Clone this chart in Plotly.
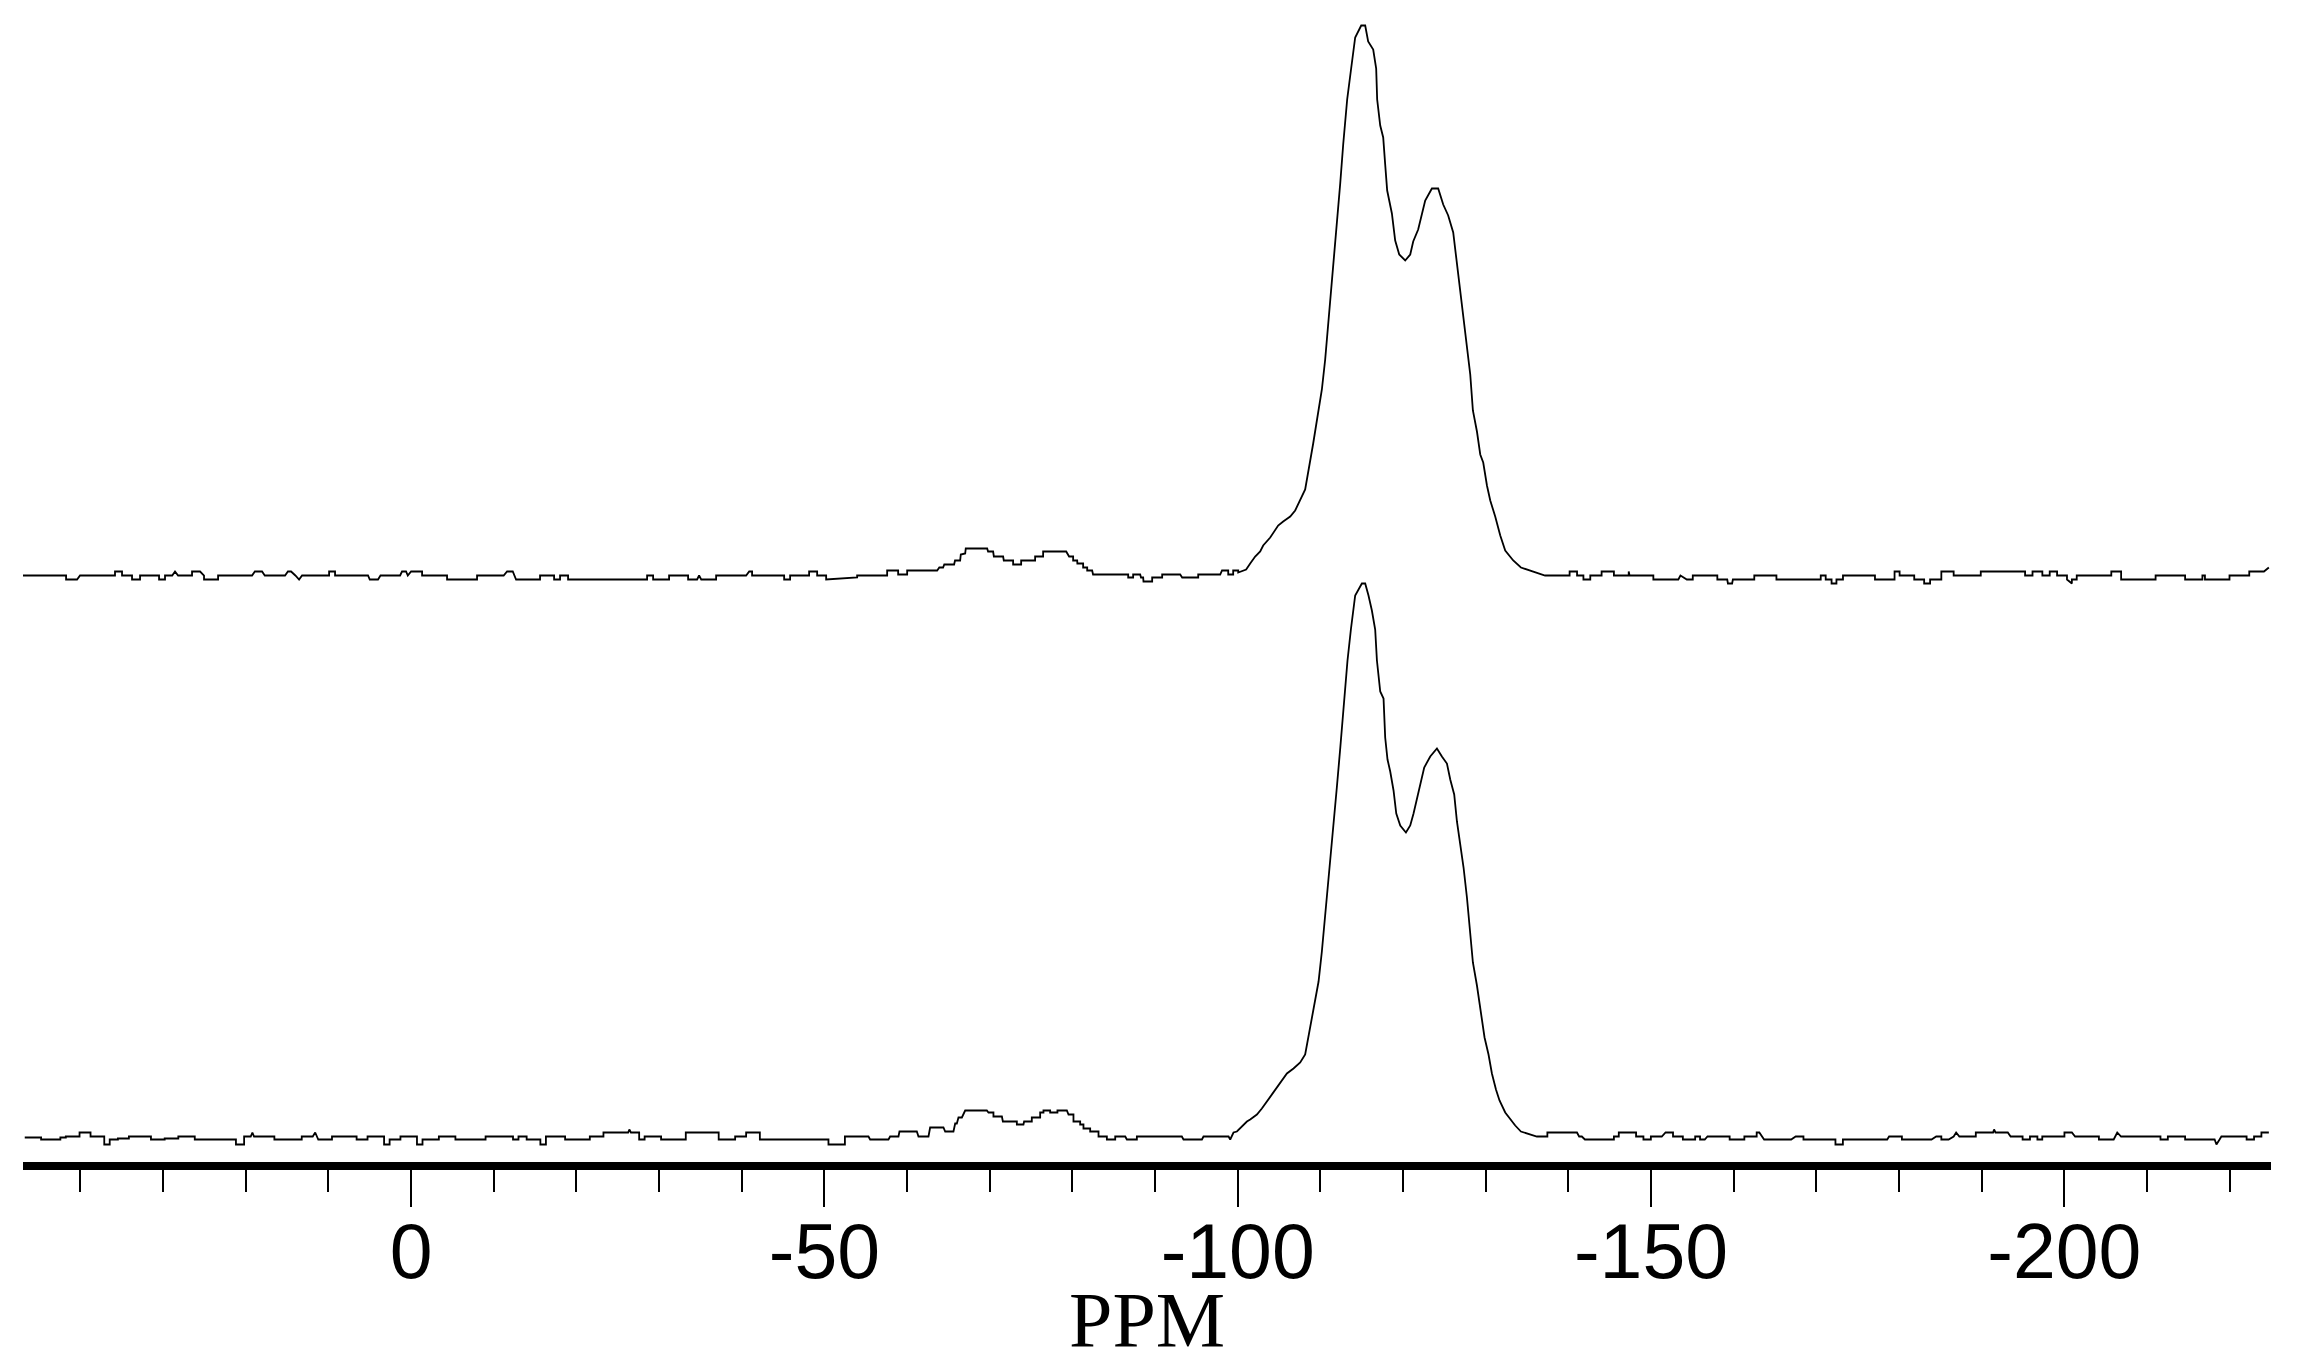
import plotly.graph_objects as go

# ---- data (chemical shift in ppm, intensity in arbitrary units above each trace's own baseline) ----
ppm_top = [46.95, 41.74, 41.74, 40.41, 40.05, 35.82, 35.82, 34.97, 34.97, 33.76, 33.76, 32.79, 32.79, 30.49, 30.49, 29.77,
           29.77, 28.9, 28.56, 28.19, 26.5, 26.5, 25.53, 25.05, 25.05, 23.35, 23.35, 19.24, 18.9, 18.03, 17.7, 15.25,
           14.9, 14.52, 14.0, 13.55, 13.19, 9.92, 9.92, 9.2, 9.2, 5.21, 5.0, 4.0, 3.7, 1.33, 1.1, 0.61, 0.4, 0.0,
           -1.33, -1.33, -4.35, -4.35, -7.98, -7.98, -11.2, -11.61, -12.3, -12.7, -15.6, -15.6, -17.3, -17.3, -18.02,
           -18.02, -18.99, -18.99, -28.55, -28.55, -29.28, -29.28, -31.21, -31.21, -33.51, -33.51, -34.6, -34.84,
           -35.1, -36.9, -36.9, -40.53, -40.9, -41.25, -41.25, -45.13, -45.13, -45.85, -45.85, -48.15, -48.15, -49.12,
           -49.12, -50.21, -50.21, -53.11, -53.96, -53.96,
           -57.59, -57.59, -58.92, -58.92, -60.01, -60.01, -63.64, -63.9, -64.36, -64.5, -65.69, -65.8, -66.42, -66.5,
           -67.03, -67.1, -69.69, -69.8, -70.41, -70.5, -71.62, -71.7, -72.83, -72.83, -73.8, -73.8, -75.49, -75.49,
           -76.46, -76.46, -79.25, -79.6, -80.09, -80.09, -80.58, -80.6, -81.3, -81.3, -81.79, -81.79, -82.39, -82.5,
           -86.75, -86.75, -87.35, -87.35, -88.2, -88.3, -88.56, -88.6, -89.65, -89.65, -90.86, -90.86, -93.04, -93.28,
           -95.22, -95.22, -97.88, -98.1, -98.85, -98.85, -99.45, -99.45, -100.06, -100.06, -101.02,
           -101.51, -102.11, -102.72, -103.08, -103.93, -104.53, -104.89, -105.5, -106.35, -106.95, -108.16, -109.13,
           -109.74, -110.18, -110.58, -111.07, -111.39, -112.0, -112.4, -112.76, -113.24, -113.69, -114.21, -114.94,
           -115.42, -115.78, -116.39, -116.75, -116.87, -117.24, -117.6, -117.84, -118.08, -118.65, -119.05, -119.54,
           -120.26, -120.87, -121.23, -121.83, -122.28, -122.68, -123.49, -124.25, -124.86, -125.46, -126.07, -126.52,
           -126.92, -127.28, -127.73, -128.13, -128.45, -128.94, -129.34, -129.7, -130.15, -130.55, -131.15, -131.76,
           -132.36, -133.33, -134.26, -135.59,
           -137.18, -140.15, -140.15, -141.05, -141.05, -141.82, -141.82, -142.65, -142.65, -144.02, -144.02, -145.51,
           -145.51, -147.3, -147.3, -147.4, -150.28, -150.28, -153.3, -153.56, -154.33, -155.05, -155.05, -158.02,
           -158.02, -159.22, -159.3, -159.81, -159.9, -162.49, -162.49, -165.17, -165.17, -170.53, -170.53, -171.13,
           -171.13, -171.84, -171.84, -172.43, -172.43, -173.22, -173.22, -177.09, -177.09, -179.46, -179.46, -180.07,
           -180.07, -181.84, -181.84, -183.04, -183.04, -183.76, -183.76, -185.12, -185.12, -186.61, -186.61, -189.89,
           -189.89, -195.25, -195.25, -196.15, -196.15, -197.34, -197.34, -198.23, -198.23, -199.12, -199.12, -200.32,
           -200.32, -200.91, -200.91, -201.5, -201.5, -205.68, -205.68, -206.87, -206.87, -211.04, -211.04, -214.61,
           -214.61, -216.7, -216.7, -217.01, -217.01, -219.98, -219.98, -222.37, -222.37, -224.15, -224.74]
int_top = [0, 0, -4, -4, 0, 0, 4, 4, 0, 0, -4, -4, 0, 0, -4, -4,
           0, 0, 4, 0, 0, 4, 4, 0, -4, -4, 0, 0, 4, 4, 0, 0,
           4, 4, 0, -4, 0, 0, 4, 4, 0, 0, -4, -4, 0, 0, 4, 4, 0, 4,
           4, 0, 0, -4, -4, 0, 0, 4, 4, -4, -4, 0, 0, -4, -4,
           0, 0, -4, -4, 0, 0, -4, -4, 0, 0, -4, -4, 0,
           -4, -4, 0, 0, 4, 4, 0, 0, -4, -4, 0, 0, 4, 4,
           0, 0, -4, -3, -2, 0,
           0, 5, 5, 1, 1, 5, 5, 8, 8, 11, 11, 15, 15, 21,
           22, 27, 27, 24, 24, 19, 19, 15, 15, 11, 11, 15, 15, 19,
           19, 24, 24, 19, 19, 15, 15, 12, 12, 8, 8, 5, 5, 1,
           1, -2, -2, 1, 1, -2, -2, -6, -6, -2, -2, 1, 1, -2,
           -2, 1, 1, 5, 5, 1, 1, 5, 5, 3, 6,
           12, 19, 24, 30, 38, 45, 50, 54, 59, 65, 86, 132,
           163, 186, 216, 262, 300, 350, 392, 431, 476, 505, 538, 550,
           550, 534, 526, 507, 476, 450, 438, 411, 385, 362, 335, 321,
           315, 321, 334, 346, 360, 375, 387, 387, 371, 360, 343, 312,
           285, 258, 232, 201, 165, 144, 121, 113, 90, 75, 59, 40,
           25, 15, 8, 4,
           0, 0, 4, 4, 0, 0, -4, -4, 0, 0, 4, 4,
           0, 0, 4, 0, 0, -4, -4, 0, -4, -4, 0, 0,
           -4, -4, -8, -8, -4, -4, 0, 0, -4, -4, 0, 0,
           -4, -4, -8, -8, -4, -4, 0, 0, -4, -4, 4, 4,
           0, 0, -4, -4, -8, -8, -4, -4, 4, 4, 0, 0,
           4, 4, 0, 0, 4, 4, 0, 0, 4, 4, 0, 0,
           -4, -8, -4, -4, 0, 0, 4, 4, -4, -4, 0, 0,
           -4, -4, 0, 0, -4, -4, 0, 0, 4, 4, 8]

ppm_bot = [46.74, 44.76, 44.76, 42.43, 42.43, 41.77, 41.77, 40.11, 40.11, 38.78, 38.78, 37.12, 37.12, 36.46, 36.46,
           35.47, 35.47, 34.14, 34.14, 31.47, 31.47, 29.81, 29.81, 28.16, 28.16, 26.17, 26.17, 21.19, 21.19, 20.2,
           20.2, 19.4, 19.2, 19.0, 18.86, 16.54, 16.54, 13.23, 13.23, 11.9, 11.6, 11.23, 11.23, 9.57, 9.57, 6.59,
           6.59, 5.27, 5.27, 3.27, 3.27, 2.6, 2.6, 1.29, 1.29, -0.71, -0.71, -1.38, -1.38, -3.36, -3.36, -5.36,
           -5.36, -9.01, -9.01, -12.33, -12.33, -12.99, -12.99, -13.98, -13.98, -15.64, -15.64, -16.31, -16.31,
           -18.63, -18.63, -21.62, -21.62, -23.27, -23.27, -26.26, -26.4, -26.59, -27.59, -27.59, -28.25, -28.25,
           -30.24, -30.24, -33.23, -33.23, -37.21, -37.21, -39.2, -39.2, -40.53, -40.53, -42.19, -42.19, -50.49,
           -50.49, -52.48, -52.48,
           -55.33, -55.53, -57.75, -57.95, -58.96, -59.08, -61.18, -61.38, -62.59, -62.79, -64.4, -64.61, -65.61,
           -65.82, -66.02, -66.22, -66.63, -67.03, -69.65, -69.85, -70.45, -70.45, -71.47, -71.59, -73.28, -73.28,
           -74.08, -74.16, -75.09, -75.09, -76.1, -76.1, -76.5, -76.5, -77.31, -77.31, -78.19, -78.19, -79.33,
           -79.53, -80.13, -80.13, -80.94, -80.94, -81.34, -81.34, -82.15, -82.15, -83.16, -83.16, -84.17, -84.17,
           -85.18, -85.18, -86.39, -86.59, -87.8, -87.8, -93.24, -93.44, -95.67, -95.86, -98.89, -99.09, -99.49,
           -99.9, -101.11,
           -101.51, -102.32, -102.92, -103.93, -104.53, -105.34, -105.95, -106.75, -107.56, -108.16, -109.17,
           -109.78, -110.18, -110.58, -111.07, -111.39, -112.0, -112.4, -112.8, -113.28, -113.69, -114.21, -115.02,
           -115.42, -115.82, -116.23, -116.63, -116.84, -117.24, -117.64, -117.84, -118.12, -118.45, -118.85,
           -119.18, -119.66, -120.35, -120.87, -121.27, -121.68, -122.16, -122.56, -123.29, -124.1, -124.7, -125.31,
           -125.71, -126.19, -126.52, -126.92, -127.32, -127.73, -128.04, -128.45, -128.94, -129.34, -129.86,
           -130.34, -130.75, -131.24, -131.67, -132.36, -132.96, -133.57, -134.26, -136.19,
           -137.46, -137.46, -141.04, -141.3, -141.63, -142.0, -145.51, -145.51, -146.1, -146.1, -148.19, -148.19,
           -149.08, -149.08, -149.98, -149.98, -151.3, -151.76, -152.66, -152.66, -153.85, -153.85, -155.34, -155.34,
           -155.93, -155.93, -156.5, -156.83, -159.51, -159.51, -161.29, -161.29, -162.78, -162.78, -163.1, -163.68,
           -166.95, -167.5, -168.44, -168.44, -172.31, -172.31, -173.21, -173.21, -178.57, -178.8, -180.35, -180.35,
           -183.93, -184.5, -185.12, -185.12, -186.0, -186.61, -186.91, -187.3, -189.29, -189.29, -191.38, -191.5,
           -191.67, -193.16, -193.5, -194.95, -194.95, -195.84, -195.84, -196.74, -196.74, -197.33, -197.33, -200.01,
           -200.01, -200.91, -201.3, -204.18, -204.18, -205.97, -206.4, -206.86, -211.63, -211.63, -212.52, -212.52,
           -214.61, -214.61, -218.18, -218.4, -218.78, -219.0, -222.05, -222.05, -222.95, -222.95, -223.84, -223.84,
           -224.74]
int_bot = [-1, -1, -3, -3, -1, -1, 0, 0, 4, 4, 0, 0, -8, -8, -3,
           -3, -2, -2, 0, 0, -3, -3, -2, -2, 0, 0, -3, -3, -8, -8,
           0, 0, 4, 0, 0, 0, -3, -3, 0, 0, 4, -3, -3, -3, 0, 0,
           -3, -3, 0, 0, -8, -8, -3, -3, 0, 0, -8, -8, -3, -3, 0, 0,
           -3, -3, 0, 0, -3, -3, 0, 0, -3, -3, -8, -8, 0,
           0, -3, -3, 0, 0, 4, 4, 7, 4, 4, -3, -3, 0,
           0, -3, -3, 4, 4, -3, -3, 0, 0, 4, 4, -3, -3,
           -8, -8, 0,
           0, -3, -3, 0, 0, 5, 5, 0, 0, 9, 9, 5, 5,
           13, 13, 19, 19, 26, 26, 24, 24, 20, 20, 15, 15, 12,
           12, 15, 15, 19, 19, 24, 24, 26, 26, 24, 24, 26, 26,
           22, 22, 15, 15, 12, 12, 8, 8, 5, 5, 0, 0, -3,
           -3, 0, 0, -3, -3, 0, 0, -3, -3, 0, 0, -3, 4,
           5, 15,
           17, 22, 28, 40, 47, 57, 63, 68, 74, 82, 128,
           155, 185, 220, 262, 296, 350, 388, 430, 476, 507, 541, 553,
           553, 541, 526, 507, 476, 445, 438, 399, 377, 365, 346,
           323, 311, 304, 311, 323, 338, 354, 369, 380, 388, 380, 373,
           357, 342, 315, 292, 269, 239, 208, 174, 151, 128, 99,
           82, 63, 47, 36, 24, 17, 11, 5, 0,
           0, 4, 4, 0, 0, -3, -3, 0, 0, 4, 4, 0,
           0, -3, -3, 0, 0, 4, 4, 0, 0, -3, -3, 0,
           0, -3, -3, 0, 0, -3, -3, 0, 0, 4, 4, -3,
           -3, 0, 0, -3, -3, -8, -8, -3, -3, 0, 0, -3,
           -3, 0, 0, -3, -3, 0, 4, 0, 0, 4, 4, 7,
           4, 4, 0, 0, -3, -3, 0, 0, -3, -3, 0, 0,
           4, 4, 0, 0, -3, -3, 4, 0, 0, -3, -3, 0,
           0, -3, -3, -8, -3, 0, 0, -3, -3, 0, 0, 4,
           4]

tick_vals = [0, -50, -100, -150, -200]
tick_text = ["0", "-50", "-100", "-150", "-200"]

# ---- layout constants (pixels) ----
W, H = 2302, 1368
plot_bottom = 1162          # top edge of the thick axis line
top_offset = plot_bottom - 575.5
bot_offset = plot_bottom - 1136.5

fig = go.Figure()
fig.add_trace(go.Scatter(x=ppm_top, y=[v + top_offset for v in int_top], mode="lines",
                         line=dict(color="black", width=1.8), showlegend=False, hoverinfo="skip"))
fig.add_trace(go.Scatter(x=ppm_bot, y=[v + bot_offset for v in int_bot], mode="lines",
                         line=dict(color="black", width=1.8), showlegend=False, hoverinfo="skip"))

fig.update_layout(
    width=W, height=H,
    margin=dict(l=23, r=31, t=0, b=H - plot_bottom, pad=0),
    paper_bgcolor="white", plot_bgcolor="white",
    xaxis=dict(
        range=[46.95, -225.0], showgrid=False, zeroline=False,
        showline=True, linecolor="black", linewidth=8,
        tickmode="array", tickvals=tick_vals, ticktext=tick_text,
        ticks="outside", ticklen=37, tickwidth=1.5, tickcolor="black",
        tickfont=dict(family="Liberation Sans, Arial, sans-serif", size=77, color="black"),
        ticklabelstandoff=-21,
        minor=dict(tickmode="linear", tick0=0, dtick=10, ticks="outside", ticklen=22,
                   tickwidth=1.5, tickcolor="black", showgrid=False),
    ),
    yaxis=dict(range=[0, plot_bottom], visible=False, fixedrange=True),
    annotations=[dict(text="PPM", xref="paper", yref="paper", x=0.5, y=(plot_bottom - 1319) / plot_bottom,
                      xanchor="center", yanchor="middle", showarrow=False,
                      font=dict(family="Liberation Serif, Times New Roman, serif", size=78, color="black"))],
)

fig.write_html("out.html", config={"displayModeBar": False},
               post_script="document.body.style.margin='0';")
